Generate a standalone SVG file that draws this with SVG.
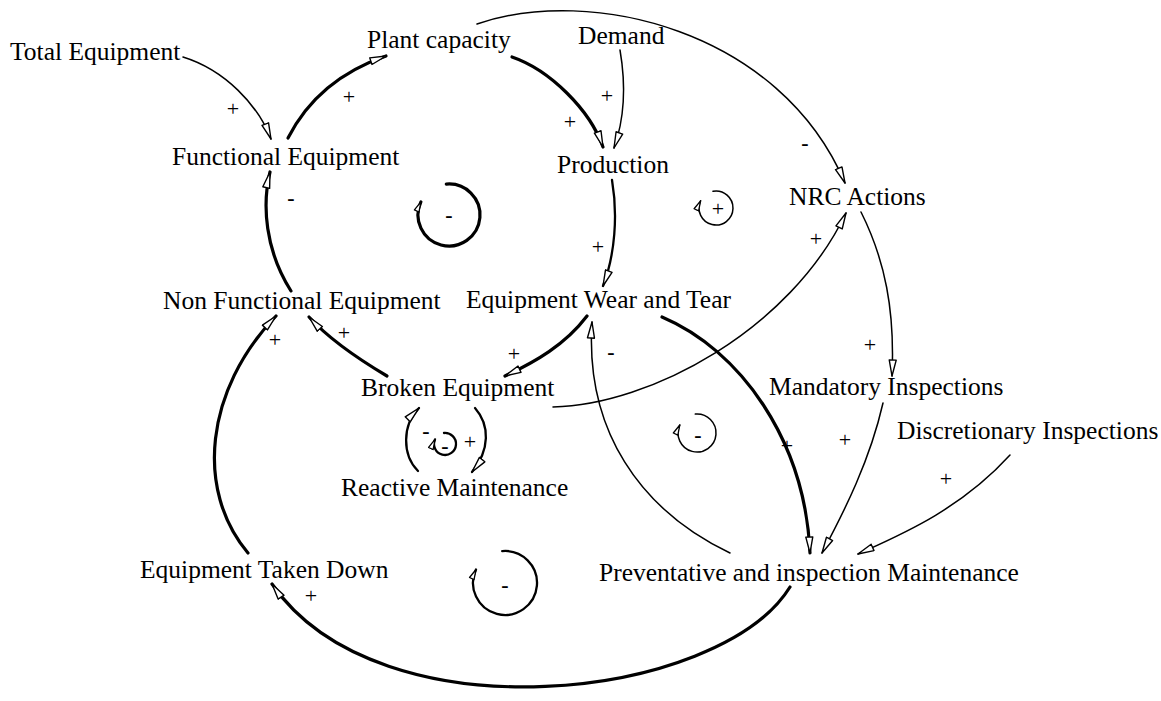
<svg xmlns="http://www.w3.org/2000/svg" width="1161" height="701" viewBox="0 0 1161 701">
<style>
.n{font-family:"Liberation Serif","Times New Roman",serif;font-size:25.5px;fill:#000}
.s{font-family:"Liberation Serif","Times New Roman",serif;font-size:22px;fill:#000;text-anchor:middle}
.m{font-weight:bold}
.c{fill:none;stroke:#000;stroke-linecap:round}
.thin{stroke-width:1.5}
.med{stroke-width:2.3}
.thick{stroke-width:3.2}
.arr{marker-end:url(#ah)}
.loop{marker-end:url(#lh)}
</style>
<defs>
<marker id="ah" viewBox="0 0 18 9" refX="17" refY="4.5" markerWidth="18" markerHeight="9" markerUnits="userSpaceOnUse" orient="auto">
<path d="M1,1 L17,4.5 L1,8 Z" fill="#fff" stroke="#000" stroke-width="1.4" stroke-linejoin="round"/>
</marker>
<marker id="lh" viewBox="0 0 12 7" refX="11" refY="3.5" markerWidth="12" markerHeight="7" markerUnits="userSpaceOnUse" orient="auto">
<path d="M1,1 L11,3.5 L1,6 Z" fill="#fff" stroke="#000" stroke-width="1.3" stroke-linejoin="round"/>
</marker>
</defs>
<rect width="1161" height="701" fill="#fff"/>

<g id="connectors">
<path class="c thin arr" d="M183,57 C225,70 258,105 271,139"/>
<path class="c thick arr" d="M288,138 C310,95 345,70 386,56"/>
<path class="c thick arr" d="M512,57 C550,70 590,110 603,147"/>
<path class="c thin arr" d="M620,50 C626,85 624,120 614,148"/>
<path class="c thin arr" d="M477,24 C590,-15 780,30 845,183"/>
<path class="c med arr" d="M612,180 C618,215 615,255 603,286"/>
<path class="c thick arr" d="M291,291 C265,250 262,205 270,172"/>
<path class="c thick arr" d="M587,316 C565,345 535,362 505,376"/>
<path class="c thick arr" d="M387,376 C360,360 330,340 309,317"/>
<path class="c thick arr" d="M248,553 C195,490 205,390 276,316"/>
<path class="c thin arr" d="M553,407 C650,405 790,330 846,213"/>
<path class="c thin arr" d="M861,212 C885,260 895,310 892,376"/>
<path class="c thin arr" d="M883,403 C870,460 845,510 822,553"/>
<path class="c thin arr" d="M1010,455 C960,510 900,535 858,554"/>
<path class="c thick arr" d="M662,317 C740,350 805,440 810,553"/>
<path class="c thin arr" d="M730,553 C640,510 585,430 592,322"/>
<path class="c thick arr" d="M790,587 C720,700 380,740 272,584"/>
<path class="c med arr" d="M475,408 C490,425 490,450 472,472"/>
<path class="c med arr" d="M418,471 C402,455 402,425 419,408"/>
</g>

<g id="polarities">
<text class="s" x="233" y="116">+</text>
<text class="s" x="349" y="104">+</text>
<text class="s" x="570" y="129">+</text>
<text class="s" x="607" y="103">+</text>
<text class="s m" x="805" y="150">-</text>
<text class="s m" x="291" y="205">-</text>
<text class="s" x="598" y="254">+</text>
<text class="s" x="816" y="246">+</text>
<text class="s" x="344" y="340">+</text>
<text class="s" x="275" y="347">+</text>
<text class="s" x="514" y="361">+</text>
<text class="s m" x="611" y="359">-</text>
<text class="s" x="870" y="352">+</text>
<text class="s m" x="426" y="438">-</text>
<text class="s" x="470" y="449">+</text>
<text class="s" x="787" y="453">+</text>
<text class="s" x="845" y="447">+</text>
<text class="s" x="946" y="486">+</text>
<text class="s" x="311" y="603">+</text>
</g>

<g id="loops">
<path class="c thick loop" d="M446.3,184.1 A31,31 0 1 1 420.9,201.9"/>
<text class="s m" x="449" y="222">-</text>
<path class="c thin loop" d="M713,191.3 A17,17 0 1 1 700.6,200.8"/>
<text class="s" x="718" y="216">+</text>
<path class="c thin loop" d="M695.3,414.1 A19,19 0 1 1 679.8,425"/>
<text class="s m" x="698" y="442">-</text>
<path class="c med loop" d="M444,433 A11,11 0 1 1 435,439.4"/>
<text class="s m" x="445" y="453">-</text>
<path class="c med loop" d="M502.2,551.1 A32,32 0 1 1 476,569.5"/>
<text class="s m" x="505" y="592">-</text>
</g>

<g id="total-equipment"><text class="n" x="10" y="60">Total Equipment</text></g>
<g id="plant-capacity"><text class="n" x="367" y="48">Plant capacity</text></g>
<g id="demand"><text class="n" x="578" y="44">Demand</text></g>
<g id="functional-equipment"><text class="n" x="172" y="165">Functional Equipment</text></g>
<g id="production"><text class="n" x="557" y="173">Production</text></g>
<g id="nrc-actions"><text class="n" x="789" y="205">NRC Actions</text></g>
<g id="non-functional-equipment"><text class="n" x="163" y="309">Non Functional Equipment</text></g>
<g id="equipment-wear-and-tear"><text class="n" x="466" y="308">Equipment Wear and Tear</text></g>
<g id="broken-equipment"><text class="n" x="361" y="396">Broken Equipment</text></g>
<g id="mandatory-inspections"><text class="n" x="769" y="395">Mandatory Inspections</text></g>
<g id="discretionary-inspections"><text class="n" x="897" y="439">Discretionary Inspections</text></g>
<g id="reactive-maintenance"><text class="n" x="341" y="496">Reactive Maintenance</text></g>
<g id="equipment-taken-down"><text class="n" x="140" y="578">Equipment Taken Down</text></g>
<g id="preventative-maintenance"><text class="n" x="599" y="581">Preventative and inspection Maintenance</text></g>
</svg>
